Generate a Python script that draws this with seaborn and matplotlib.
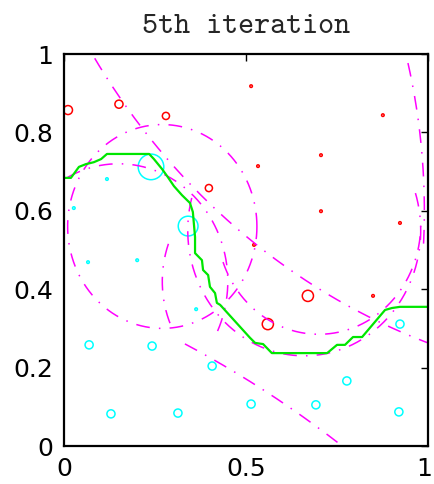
import numpy as np
import pandas as pd
import matplotlib.pyplot as plt
import matplotlib.transforms as mtransforms
import seaborn as sns

# positive samples (red) with their boosting weights after round 5
red_x = [0.011, 0.151, 0.280, 0.398, 0.514, 0.533, 0.706, 0.706, 0.876, 0.923, 0.522, 0.670, 0.560, 0.849]
red_y = [0.857, 0.872, 0.842, 0.658, 0.918, 0.714, 0.742, 0.599, 0.844, 0.569, 0.513, 0.383, 0.311, 0.383]
red_w = [6, 5, 4, 4, 1, 1, 1, 1, 1, 1, 1, 9, 9, 1]

# negative samples (cyan)
cyan_x = [0.239, 0.341, 0.118, 0.027, 0.066, 0.201, 0.363, 0.069, 0.242, 0.407,
          0.129, 0.313, 0.514, 0.692, 0.777, 0.920, 0.923]
cyan_y = [0.712, 0.561, 0.681, 0.607, 0.469, 0.474, 0.349, 0.258, 0.255, 0.204,
          0.082, 0.084, 0.107, 0.105, 0.166, 0.087, 0.311]
cyan_w = [45, 27, 1, 1, 1, 1, 1, 5, 5, 5, 5, 5, 5, 5, 5, 5, 5]

# combined classifier boundary
bound_x = [0.0, 0.019, 0.041, 0.060, 0.082, 0.102, 0.118, 0.234, 0.247, 0.269, 0.283,
           0.302, 0.324, 0.346, 0.354, 0.360, 0.360, 0.379, 0.382, 0.396, 0.401, 0.415,
           0.420, 0.429, 0.511, 0.525, 0.547, 0.571, 0.723, 0.750, 0.772, 0.794, 0.819,
           0.882, 0.901, 0.923, 1.0]
bound_y = [0.684, 0.684, 0.712, 0.719, 0.724, 0.732, 0.745, 0.745, 0.732, 0.707, 0.689,
           0.663, 0.640, 0.620, 0.597, 0.533, 0.492, 0.474, 0.449, 0.436, 0.406, 0.390,
           0.365, 0.360, 0.276, 0.263, 0.260, 0.237, 0.237, 0.258, 0.258, 0.278, 0.278,
           0.347, 0.352, 0.355, 0.355]

# weak learners: circle centre, radius and the part that is shown (degrees)
circ_cx = [0.27, 1.60, -0.995, 0.66, 0.70, -0.61, 0.15, 0.55]
circ_cy = [0.56, 1.96, -2.43, 0.55, 0.565, 0.60, 0.42, 0.42]
circ_r = [0.26, 1.80, 3.00, 0.32, 0.28, 1.60, 0.30, 0.28]
arc_from = [0, 200, 45, 165, 200, -3, -25, 160]
arc_to = [360, 260, 64, 380, 360, 16, 120, 205]

sns.set_style("white")
plt.rcParams['font.family'] = ['DejaVu Sans']

pts = pd.concat([
    pd.DataFrame({'x': red_x, 'y': red_y, 'w': red_w, 'cls': 'pos'}),
    pd.DataFrame({'x': cyan_x, 'y': cyan_y, 'w': cyan_w, 'cls': 'neg'}),
])
cols = {'pos': '#ff0000', 'neg': '#00ffff'}

fig = plt.figure(figsize=(4.34, 4.84), dpi=100)
ax = fig.add_axes([64 / 434, 38 / 484, 364 / 434, 392 / 484])

for cx, cy, r, t0, t1 in zip(circ_cx, circ_cy, circ_r, arc_from, arc_to):
    t = np.radians(np.linspace(t0, t1, 400))
    sns.lineplot(x=cx + r * np.cos(t), y=cy + r * np.sin(t), sort=False, estimator=None,
                 color='#ff00ff', lw=1.1, linestyle=(0, (9, 6, 1, 6)), ax=ax)

sns.lineplot(x=bound_x, y=bound_y, sort=False, estimator=None, color='#00e600', lw=1.6, ax=ax)

for c, sub in pts.groupby('cls'):
    sns.scatterplot(data=sub, x='x', y='y', size='w', sizes=(3.5, 340), size_norm=(1, 45),
                    facecolor='none', edgecolor=cols[c], linewidth=1.1, legend=False, ax=ax)

ax.set_xlim(0, 1)
ax.set_ylim(0, 1)
ax.set_xticks([0, 0.5, 1])
ax.set_yticks([0, 0.2, 0.4, 0.6, 0.8, 1])
ax.set_xticklabels(['0', '0.5', '1'])
ax.set_yticklabels(['0', '0.2', '0.4', '0.6', '0.8', '1'])
ax.set_xlabel('')
ax.set_ylabel('')
ax.tick_params(direction='in', top=True, right=True, length=5, width=1,
               labelsize=18, pad=8, colors='black')
for s in ax.spines.values():
    s.set_linewidth(1.6)
    s.set_color('black')
ax.set_title('5th iteration', fontfamily='cmtt10', fontsize=22, pad=15)

# keep the last x label inside the figure
lab = ax.get_xticklabels()[-1]
lab.set_transform(lab.get_transform() + mtransforms.ScaledTranslation(-4 / 100, 0, fig.dpi_scale_trans))

fig.savefig('out.png', dpi=100)
